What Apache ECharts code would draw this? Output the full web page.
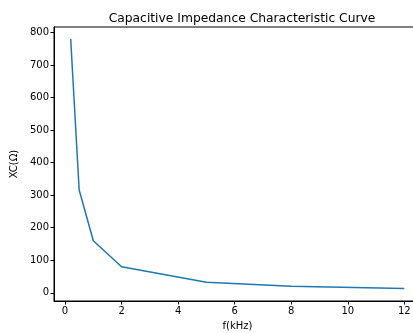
<!DOCTYPE html>
<html>
<head>
<meta charset="utf-8">
<script src="https://cdn.jsdelivr.net/npm/echarts@6/dist/echarts.min.js"></script>
<style>html,body{margin:0;padding:0;background:#fff}#c{width:413px;height:333px}</style>
</head>
<body>
<div id="c"></div>
<script>
const freqs = [0.2, 0.5, 1, 2, 5, 8, 12];
const xcValues = [780, 316, 160, 80, 32, 20, 13];
const xTicks = [0, 2, 4, 6, 8, 10, 12];
const yTicks = [0, 100, 200, 300, 400, 500, 600, 700, 800];

const chart = echarts.init(document.getElementById('c'), null, {renderer: 'canvas'});
const font = 'DejaVu Sans';
chart.setOption({
  animation: false,
  backgroundColor: '#fff',
  title: {
    text: 'Capacitive Impedance Characteristic Curve',
    left: 237, top: 8, textAlign: 'center',
    textStyle: {fontFamily: font, fontSize: 12.3, fontWeight: 'normal', color: '#000'}
  },
  grid: {left: 54, top: 27, width: 367, height: 274, outerBoundsMode: 'none', containLabel: false,
         show: true, borderColor: '#000', borderWidth: 1, backgroundColor: 'transparent'},
  xAxis: {
    type: 'value', min: -0.39, max: 12.59,
    name: 'f(kHz)', nameLocation: 'middle', nameGap: 20,
    nameTextStyle: {fontFamily: font, fontSize: 10, color: '#000'},
    axisLine: {show: true, onZero: false, lineStyle: {color: '#000', width: 1}},
    axisTick: {show: true, inside: false, length: 3.5, customValues: xTicks, lineStyle: {color: '#000'}},
    axisLabel: {customValues: xTicks, fontFamily: font, fontSize: 10, color: '#000', margin: 5},
    splitLine: {show: false}
  },
  yAxis: {
    type: 'value', min: -25.3, max: 817,
    name: 'XC(Ω)', nameLocation: 'middle', nameGap: 32,
    nameTextStyle: {fontFamily: font, fontSize: 10, color: '#000'},
    axisLine: {show: true, onZero: false, lineStyle: {color: '#000', width: 1}},
    axisTick: {show: true, inside: false, length: 3.5, customValues: yTicks, lineStyle: {color: '#000'}},
    axisLabel: {customValues: yTicks, fontFamily: font, fontSize: 10, color: '#000', margin: 5},
    splitLine: {show: false}
  },
  series: [{
    type: 'line',
    data: freqs.map((f, i) => [f, xcValues[i]]),
    showSymbol: false,
    lineStyle: {color: '#1f77b4', width: 1.5},
    itemStyle: {color: '#1f77b4'}
  }]
});
</script>
</body>
</html>
